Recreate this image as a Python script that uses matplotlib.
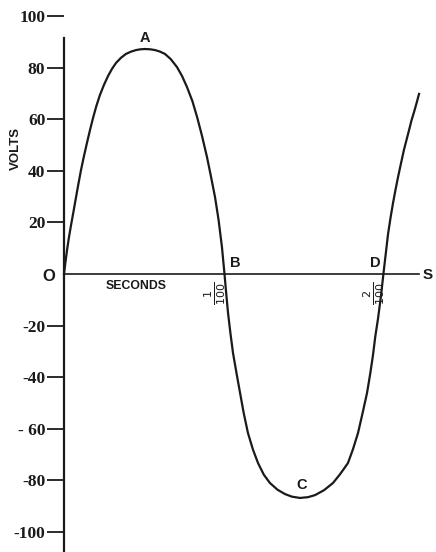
import numpy as np
import matplotlib
matplotlib.use("Agg")
import matplotlib.pyplot as plt

# time in hundredths of a second, pressure in volts
t = [0.0, 0.009, 0.019, 0.031, 0.044, 0.06, 0.075, 0.09, 0.106, 0.124,
     0.143, 0.162, 0.181, 0.202, 0.224, 0.249, 0.274, 0.299, 0.324, 0.355,
     0.386, 0.418, 0.449, 0.477, 0.505, 0.536, 0.567, 0.598, 0.629, 0.665,
     0.704, 0.735, 0.766, 0.80, 0.829, 0.86, 0.891, 0.915, 0.941, 0.963,
     0.984, 1.0,
     1.011, 1.022, 1.037, 1.053, 1.075, 1.097, 1.12, 1.146, 1.177, 1.209,
     1.245, 1.283, 1.33, 1.377, 1.42, 1.470, 1.52, 1.564, 1.62, 1.676,
     1.72, 1.769, 1.80, 1.832, 1.86, 1.888, 1.907, 1.925, 1.94, 1.956,
     1.975, 1.99,
     2.005, 2.019, 2.035, 2.050, 2.065, 2.081, 2.10, 2.118, 2.135, 2.150,
     2.165, 2.181, 2.197, 2.212]
volts = [0.0, 4.6, 9.3, 14.3, 19.0, 24.5, 29.8, 35.0, 40.3, 45.6,
         50.8, 55.8, 60.5, 65.2, 69.4, 73.3, 76.7, 79.5, 81.8, 83.8,
         85.3, 86.2, 86.8, 87.1, 87.2, 87.1, 86.8, 86.2, 85.3, 83.3,
         80.2, 76.8, 72.5, 67.0, 60.9, 53.5, 45.3, 38.0, 29.8, 21.0,
         10.5, 0.0,
         -7.8, -15.1, -23.0, -30.6, -38.5, -46.1, -54.0, -61.6, -68.0, -73.3,
         -77.8, -81.0, -83.6, -85.3, -86.3, -86.8, -86.5, -85.7, -83.8, -81.0,
         -77.6, -73.3, -68.0, -61.6, -54.0, -46.1, -39.0, -31.5, -24.0, -17.5,
         -8.5, 0.0,
         8.0, 15.5, 22.0, 27.5, 32.5, 37.5, 43.0, 48.1, 52.2, 55.8,
         59.5, 62.8, 66.3, 69.8]

yticks = [100, 80, 60, 40, 20, -20, -40, -60, -80, -100]
ytick_labels = ["100", "80", "60", "40", "20", "-20", "-40", "- 60", "-80", "-100"]
points = {"A": (0.505, 87.2), "B": (1.0, 0.0), "C": (1.47, -86.8), "D": (1.99, 0.0)}
fractions = {1.0: r"$\frac{1}{100}$", 1.99: r"$\frac{2}{100}$"}
x_end = 2.21
y_axis_top = 91.5

W, H = 436, 552
fig = plt.figure(figsize=(W / 100, H / 100), dpi=100)
x0 = 64
ax = fig.add_axes([x0 / W, 0, (W - x0) / W, 1])
ax.set_xlim(0, (W - x0) / 160.5)
ax.set_ylim(-(H - 274) / 2.58, 274 / 2.58)
ax.patch.set_alpha(0)

ink = "#1a1a1a"
ax.plot(t, volts, color=ink, lw=1.6, solid_joinstyle="round", clip_on=False)

for s in ["top", "right"]:
    ax.spines[s].set_visible(False)
ax.spines["left"].set_bounds(ax.get_ylim()[0], y_axis_top)
ax.spines["left"].set_linewidth(1.6)
ax.spines["left"].set_color(ink)
ax.spines["bottom"].set_position(("data", 0))
ax.spines["bottom"].set_bounds(0, x_end)
ax.spines["bottom"].set_linewidth(1.2)
ax.spines["bottom"].set_color(ink)

ax.set_xticks([])
ax.set_yticks(yticks)
ax.set_yticklabels(ytick_labels, family="Liberation Serif", fontsize=12.5,
                   fontweight="bold", color=ink)
ax.tick_params(axis="y", direction="out", length=12, width=1.3, pad=1.5, colors=ink)

sans = dict(family="Liberation Sans", color=ink)
for name, (px, py) in points.items():
    if name == "A":
        ax.annotate(name, (px, py), xytext=(0, 3), textcoords="offset points",
                    ha="center", va="bottom", fontsize=10.5, fontweight="bold", **sans)
    elif name == "C":
        ax.annotate(name, (px, py), xytext=(1, 4), textcoords="offset points",
                    ha="center", va="bottom", fontsize=10.5, fontweight="bold", **sans)
    elif name == "B":
        ax.annotate(name, (px, py), xytext=(4, 3), textcoords="offset points",
                    ha="left", va="bottom", fontsize=10.5, fontweight="bold", **sans)
    else:
        ax.annotate(name, (px, py), xytext=(-2, 3), textcoords="offset points",
                    ha="right", va="bottom", fontsize=10.5, fontweight="bold", **sans)

ax.annotate("S", (x_end, 0), xytext=(3, -1), textcoords="offset points",
            ha="left", va="center", fontsize=11, fontweight="bold", **sans)
ax.annotate("O", (0, 0), xytext=(-6, -2), textcoords="offset points",
            ha="right", va="center", fontsize=12, fontweight="bold", **sans)
ax.annotate("SECONDS", (0.45, 0), xytext=(0, -4), textcoords="offset points",
            ha="center", va="top", fontsize=8.8, fontweight="bold", **sans)
for fx, lab in fractions.items():
    ax.annotate(lab, (fx, 0), xytext=(-7, -14), textcoords="offset points",
                ha="center", va="center", rotation=90, fontsize=11.5, color=ink)
fig.text(16 / W, 1 - 148 / H, "VOLTS", rotation=90, ha="center", va="center",
         fontsize=9.5, fontweight="bold", **sans)

fig.savefig("out.png", dpi=100, facecolor="white")
